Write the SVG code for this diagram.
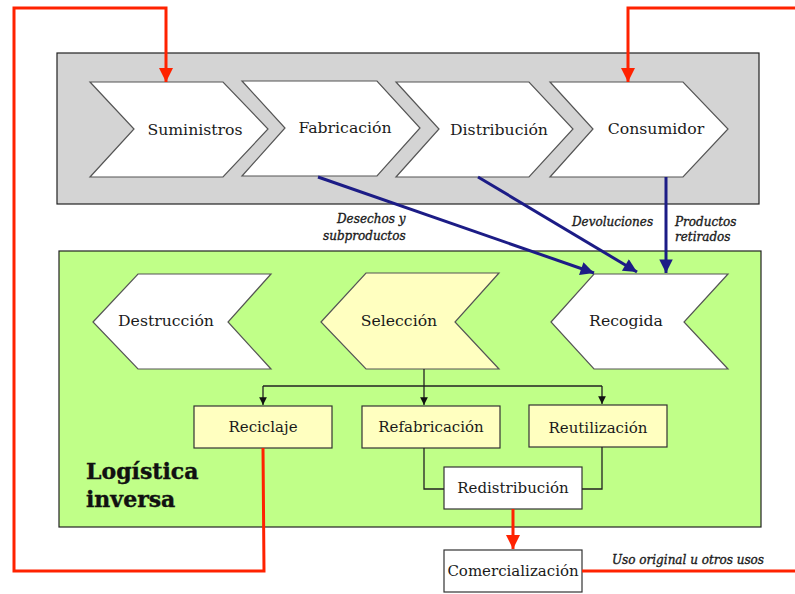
<svg xmlns="http://www.w3.org/2000/svg" width="795" height="594" viewBox="0 0 795 594">
<style>
.chev{fill:#ffffff;stroke:#555555;stroke-width:1.2}
.sel{fill:#ffffc0;stroke:#555555;stroke-width:1.2}
.box{fill:#ffffc0;stroke:#333333;stroke-width:1.2}
.wbox{fill:#ffffff;stroke:#333333;stroke-width:1.2}
.lbl{font-family:"DejaVu Serif","Liberation Serif",serif;font-size:15.7px;fill:#1a1a1a;text-anchor:middle;dominant-baseline:central}
.blbl{font-family:"DejaVu Serif","Liberation Serif",serif;font-size:15px;fill:#1a1a1a;text-anchor:middle;dominant-baseline:central}
.it{font-family:"DejaVu Serif","Liberation Serif",serif;font-size:12px;font-style:italic;fill:#1a1a1a;stroke:#1a1a1a;stroke-width:0.35}
.red{fill:none;stroke:#ff2200;stroke-width:3}
.blue{fill:none;stroke:#1c1c86;stroke-width:3}
.blk{fill:none;stroke:#222222;stroke-width:1.3}
.title{font-family:"DejaVu Serif","Liberation Serif",serif;font-size:22px;font-weight:bold;fill:#111111;stroke:#111111;stroke-width:0.4}
</style>
<defs>
<marker id="ar" viewBox="0 0 10 10" refX="10" refY="5" markerWidth="4.7" markerHeight="4.7" markerUnits="strokeWidth" orient="auto"><path d="M0,0 L10,5 L0,10 Z" fill="#ff2200"/></marker>
<marker id="ab" viewBox="0 0 10 10" refX="10" refY="5" markerWidth="6" markerHeight="4.5" markerUnits="strokeWidth" orient="auto"><path d="M0,0 L10,5 L0,10 Z" fill="#1c1c86"/></marker>
<marker id="ak" viewBox="0 0 10 10" refX="10" refY="5" markerWidth="7" markerHeight="6" markerUnits="strokeWidth" orient="auto"><path d="M0,0 L10,5 L0,10 Z" fill="#111111"/></marker>
</defs>
<rect width="795" height="594" fill="#ffffff"/>
<rect id="cadena" x="57" y="53" width="702" height="151" fill="#d4d4d4" stroke="#222222" stroke-width="1.2"/>
<rect id="logistica" x="59" y="251" width="702" height="276" fill="#c0ff88" stroke="#222222" stroke-width="1.2"/>

<g id="suministros"><polygon class="chev" points="90,82 223,82 268,129 223,177 90,177 134,129"/><text class="lbl" x="195" y="129">Suministros</text></g>
<g id="fabricacion"><polygon class="chev" points="242,81 377,81 420,128 377,176 242,176 285,128"/><text class="lbl" x="345" y="127">Fabricación</text></g>
<g id="distribucion"><polygon class="chev" points="396,82 529,82 573,129 529,177 396,177 439,129"/><text class="lbl" x="499" y="129">Distribución</text></g>
<g id="consumidor"><polygon class="chev" points="550,82 683,82 728,129 683,177 550,177 593,129"/><text class="lbl" x="656" y="128">Consumidor</text></g>

<g id="destruccion"><polygon class="chev" points="93,322 138,274 271,274 228,322 271,369 138,369"/><text class="lbl" x="166" y="320">Destrucción</text></g>
<g id="seleccion"><polygon class="sel" points="321,322 366,273 499,273 455,322 499,369 366,369"/><text class="lbl" x="399" y="320">Selección</text></g>
<g id="recogida"><polygon class="chev" points="551,322 594,274 728,274 684,322 728,369 594,369"/><text class="lbl" x="626" y="320">Recogida</text></g>

<g id="reciclaje"><rect class="box" x="194" y="406" width="138" height="42"/><text class="blbl" x="263" y="427">Reciclaje</text></g>
<g id="refabricacion"><rect class="box" x="362" y="406" width="138" height="42"/><text class="blbl" x="431" y="427">Refabricación</text></g>
<g id="reutilizacion"><rect class="box" x="529" y="405" width="138" height="42"/><text class="blbl" x="598" y="428">Reutilización</text></g>
<g id="redistribucion"><rect class="wbox" x="444" y="467" width="138" height="42"/><text class="blbl" x="513" y="488">Redistribución</text></g>
<g id="comercializacion"><rect class="wbox" x="444" y="550" width="138" height="42"/><text class="blbl" x="513" y="571">Comercialización</text></g>

<text class="title" x="86" y="479">Logística</text>
<text class="title" x="86" y="507">inversa</text>

<g id="connectors">
<path class="blue" d="M318,177 L594,273" marker-end="url(#ab)"/>
<path class="blue" d="M478,177 L637,272" marker-end="url(#ab)"/>
<path class="blue" d="M666,177 L666,273" marker-end="url(#ab)"/>
<path class="blk" d="M424,369 L424,386"/>
<path class="blk" d="M263,386 L602,386"/>
<path class="blk" d="M263,386 L263,405" marker-end="url(#ak)"/>
<path class="blk" d="M424,386 L424,405" marker-end="url(#ak)"/>
<path class="blk" d="M602,386 L602,404" marker-end="url(#ak)"/>
<path class="blk" d="M424,448 L424,489 L444,489"/>
<path class="blk" d="M602,447 L602,489 L582,489"/>
<path class="red" d="M513,509 L513,549" marker-end="url(#ar)"/>
<path class="red" d="M582,571 L800,571"/>
<path class="red" d="M800,8 L628,8 L628,82" marker-end="url(#ar)"/>
<path class="red" d="M263,448 L264,571 L14,571 L14,8 L166,8 L166,82" marker-end="url(#ar)"/>
</g>
<text class="it" x="337" y="223">Desechos y</text>
<text class="it" x="323" y="240">subproductos</text>
<text class="it" x="572" y="226">Devoluciones</text>
<text class="it" x="675" y="226">Productos</text>
<text class="it" x="675" y="241">retirados</text>
<text class="it" x="612" y="564">Uso original u otros usos</text>
</svg>
